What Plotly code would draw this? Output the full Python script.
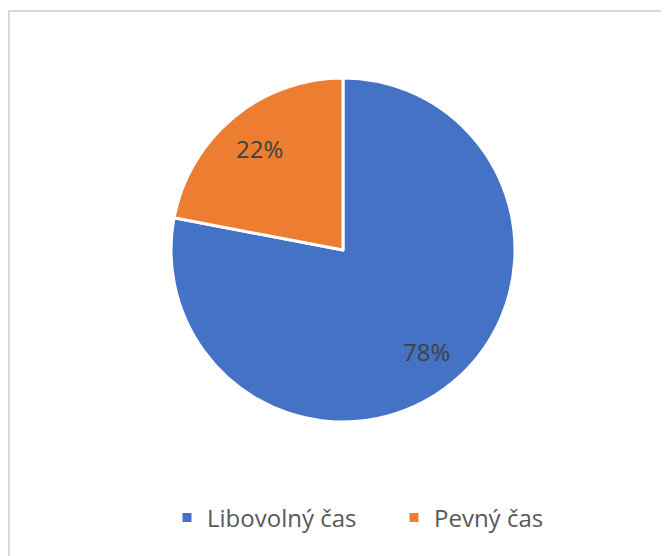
import math
import plotly.graph_objects as go

labels = ["Libovolný čas", "Pevný čas"]
values = [78, 22]
colors = ["#4472C4", "#ED7D31"]

# page has an 8px body margin; figure pixel = screen pixel - 8
OFF = 8
L, T = 171 - OFF, 78 - OFF
PW = PH = 344
W, H = 669, 556
R, B = W - L - PW, H - T - PH

fig = go.Figure(go.Pie(
    labels=labels, values=values, sort=False, direction="clockwise", rotation=0,
    marker=dict(colors=colors, line=dict(color="white", width=3)),
    textinfo="none",
    hoverinfo="label+percent",
))

# percent labels placed on slice bisectors at ~0.76 of the radius (like the source chart)
total = sum(values)
annotations = []
cum = 0
for v in values:
    mid = (cum + v / 2) / total * 2 * math.pi
    cum += v
    r = 0.5 * 0.765
    annotations.append(dict(
        x=0.5 + r * math.sin(mid), y=0.5 + r * math.cos(mid),
        xref="paper", yref="paper", showarrow=False,
        text=f"{round(v / total * 100)}%",
        font=dict(family="Open Sans", size=24, color="#404040"),
        xanchor="center", yanchor="middle",
    ))

fig.update_layout(
    width=W, height=H,
    margin=dict(l=L, r=R, t=T, b=B, autoexpand=False),
    paper_bgcolor="white", plot_bgcolor="white",
    showlegend=True,
    legend=dict(orientation="h", x=(167 - OFF - L) / PW, xanchor="left",
                y=(PH - (518 - 78)) / PH, yanchor="middle",
                font=dict(family="Open Sans", size=24, color="#595959"),
                itemwidth=30, entrywidth=182, entrywidthmode="pixels",
                traceorder="normal"),
    annotations=annotations,
    shapes=[dict(type="rect", xref="paper", yref="paper",
                 x0=(9 - OFF - L) / PW, x1=(700 - OFF - L) / PW,
                 y0=(PH + T - (600 - OFF)) / PH, y1=(PH + T - (11 - OFF)) / PH,
                 line=dict(color="#D9D9D9", width=2), fillcolor="rgba(0,0,0,0)", layer="below")],
)

fig.write_html("out.html")
